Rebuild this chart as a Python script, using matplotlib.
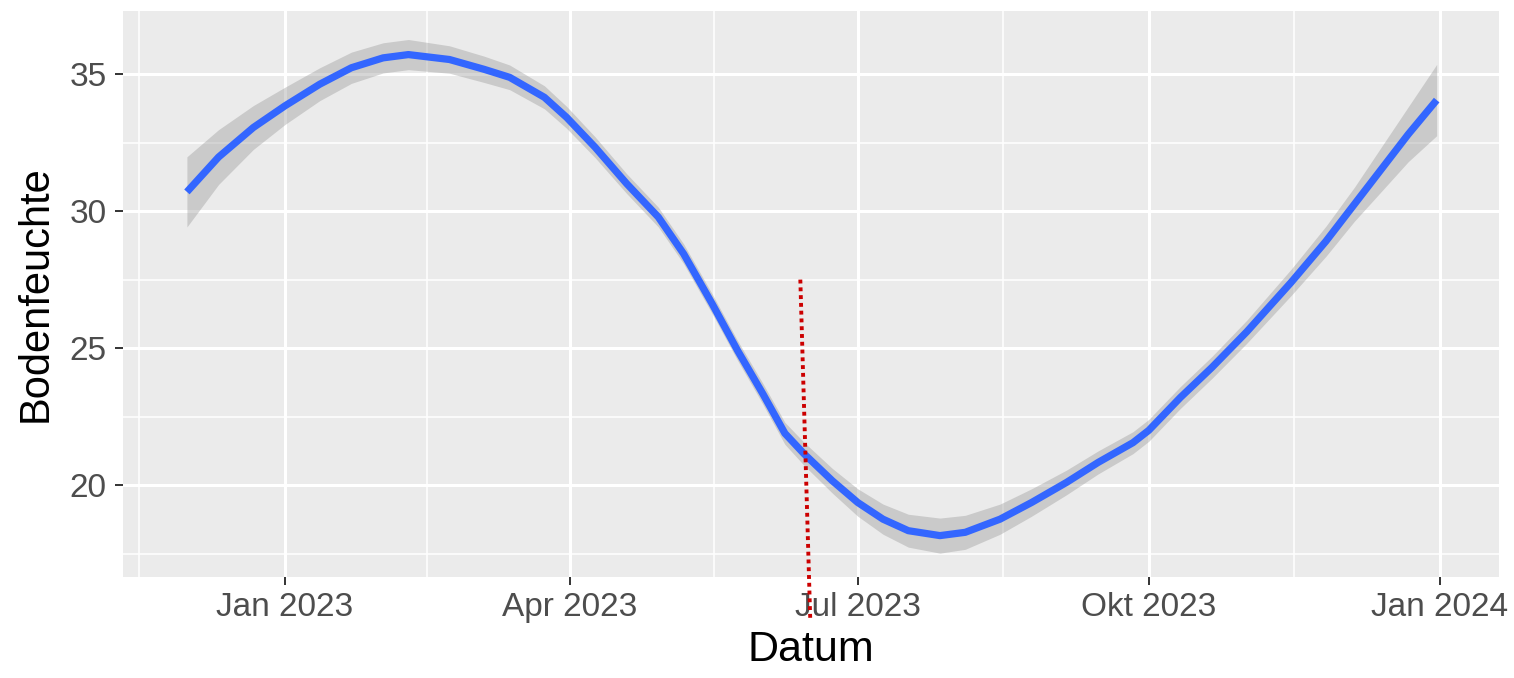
import matplotlib as mpl
mpl.use('agg')
import matplotlib.pyplot as plt
import matplotlib.dates as mdates
import numpy as np

# smoothed soil moisture
dates = ['2022-12-01', '2022-12-11', '2022-12-22', '2023-01-01', '2023-01-12',
         '2023-01-22', '2023-02-01', '2023-02-09', '2023-02-22', '2023-03-05',
         '2023-03-13', '2023-03-24', '2023-03-31', '2023-04-09', '2023-04-19',
         '2023-04-29', '2023-05-07', '2023-05-16', '2023-05-24', '2023-06-01',
         '2023-06-08', '2023-06-14', '2023-06-23', '2023-07-01', '2023-07-09',
         '2023-07-17', '2023-07-27', '2023-08-04', '2023-08-15', '2023-08-25',
         '2023-09-05', '2023-09-15', '2023-09-26', '2023-10-01', '2023-10-11',
         '2023-10-21', '2023-11-01', '2023-11-15', '2023-11-26', '2023-12-05',
         '2023-12-13', '2023-12-22', '2023-12-31']
fit = [30.70, 31.97, 33.05, 33.84, 34.63,
       35.23, 35.59, 35.71, 35.53, 35.17,
       34.88, 34.15, 33.42, 32.33, 31.00,
       29.78, 28.44, 26.62, 24.92, 23.34,
       21.89, 21.15, 20.16, 19.37, 18.76,
       18.34, 18.16, 18.28, 18.76, 19.37,
       20.10, 20.83, 21.55, 22.00, 23.20,
       24.30, 25.60, 27.40, 28.90, 30.25,
       31.45, 32.80, 34.05]
se = [1.28, 1.00, 0.80, 0.68, 0.60,
      0.57, 0.55, 0.55, 0.50, 0.48,
      0.45, 0.42, 0.40, 0.38, 0.36,
      0.36, 0.36, 0.36, 0.36, 0.38,
      0.40, 0.42, 0.45, 0.50, 0.55,
      0.60, 0.64, 0.62, 0.55, 0.50,
      0.45, 0.42, 0.40, 0.40, 0.40,
      0.40, 0.42, 0.48, 0.55, 0.62,
      0.80, 1.00, 1.30]

# hand drawn red marker
marker_dates = ['2023-06-12T21:00', '2023-06-16T00:00']
marker_vals = [27.5, 15.15]

tick_dates = ['2023-01-01', '2023-04-01', '2023-07-01', '2023-10-01', '2024-01-01']
tick_labels = ['Jan 2023', 'Apr 2023', 'Jul 2023', 'Okt 2023', 'Jan 2024']
y_ticks = [20, 25, 30, 35]

plt.rcParams['font.family'] = ['Liberation Sans', 'DejaVu Sans']

x = mdates.date2num(np.array(dates, dtype='datetime64[m]'))
y = np.array(fit)
s = np.array(se)
xt = mdates.date2num(np.array(tick_dates, dtype='datetime64[m]'))
xm = mdates.date2num(np.array(marker_dates, dtype='datetime64[m]'))

fig = plt.figure(figsize=(15.14, 6.78), dpi=100)
ax = fig.add_axes([123 / 1514, 1 - 577 / 678, (1499 - 123) / 1514, (577 - 11) / 678])
ax.set_facecolor('#EBEBEB')
for sp in ax.spines.values():
    sp.set_visible(False)

# grid
minor_x = list((xt[:-1] + xt[1:]) / 2) + [xt[0] - 46]
for v in minor_x:
    ax.axvline(v, color='white', lw=1.1, zorder=0)
for v in xt:
    ax.axvline(v, color='white', lw=2.2, zorder=0)
for v in [17.5, 22.5, 27.5, 32.5]:
    ax.axhline(v, color='white', lw=1.1, zorder=0)
for v in y_ticks:
    ax.axhline(v, color='white', lw=2.2, zorder=0)

ax.fill_between(x, y - s, y + s, color='#999999', alpha=0.4, lw=0, zorder=2)
ax.plot(x, y, color='#3366FF', lw=5.2, zorder=3, solid_capstyle='butt',
        solid_joinstyle='round')

ax.plot(xm, marker_vals, color='#CC0000', lw=2.8, dashes=(1, 1),
        clip_on=False, zorder=10)

ax.set_xlim(xt[0] - 51.2, xt[0] + 383.7)
ax.set_ylim(16.65, 37.3)
ax.set_xticks(xt)
ax.set_xticklabels(tick_labels)
ax.set_yticks(y_ticks)
ax.tick_params(axis='both', colors='#333333', length=5.8, width=1.4,
               labelsize=24, labelcolor='#4D4D4D')
ax.tick_params(axis='x', pad=5)
ax.tick_params(axis='y', pad=6)

ax.set_xlabel('Datum', fontsize=31, color='black', labelpad=5)
ax.set_ylabel('Bodenfeuchte', fontsize=30, color='black', labelpad=10)

fig.savefig('out.png', dpi=100)
